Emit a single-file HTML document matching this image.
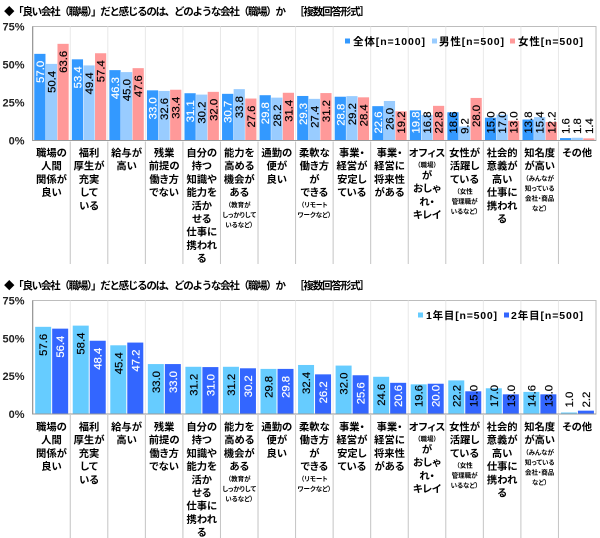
<!DOCTYPE html>
<html lang="ja">
<head>
<meta charset="utf-8">
<title>良い会社（職場）だと感じるのは</title>
<style>
html,body{margin:0;padding:0;background:#fff;width:600px;height:538px;overflow:hidden}
svg{display:block}
text{font-family:"Liberation Sans","Noto Sans CJK JP",sans-serif;fill:#000}
.title{font-size:10.5px;font-weight:700}
.tick{font-size:11px;font-weight:700;fill:#222}
.cat{font-size:10.3px;font-weight:700;font-feature-settings:"palt"}
.note{font-size:6.5px;font-weight:700;font-feature-settings:"palt"}
.val{font-size:11.3px;stroke-width:0.2px}
.leg{font-size:10.5px;font-weight:700}
</style>
</head>
<body>
<svg id="root" xmlns="http://www.w3.org/2000/svg" width="600" height="538" viewBox="0 0 600 538">
<text class="title" x="4" y="15" textLength="282" lengthAdjust="spacing">◆「良い会社（職場）」だと感じるのは、どのような会社（職場）か</text>
<text class="title" x="294" y="15" textLength="76" lengthAdjust="spacing">［複数回答形式］</text>
<text class="title" x="4" y="289" textLength="282" lengthAdjust="spacing">◆「良い会社（職場）」だと感じるのは、どのような会社（職場）か</text>
<text class="title" x="294" y="289" textLength="76" lengthAdjust="spacing">［複数回答形式］</text>
</svg>
<script>
var categories = [
  ["職場の","人間","関係が","良い"],
  ["福利","厚生が","充実","して","いる"],
  ["給与が","高い"],
  ["残業","前提の","働き方","でない"],
  ["自分の","持つ","知識や","能力を","活か","せる","仕事に","携われ","る"],
  ["能力を","高める","機会が","ある","*（教育が","*しっかりして","*いるなど）"],
  ["通勤の","便が","良い"],
  ["柔軟な","働き方","が","できる","*（リモート","*ワークなど）"],
  ["事業・","経営が","安定し","ている"],
  ["事業・","経営に","将来性","がある"],
  ["オフィス","*（職場）","が","おしゃ","れ・","キレイ"],
  ["女性が","活躍し","ている","*（女性","*管理職が","*いるなど）"],
  ["社会的","意義が","高い","仕事に","携われ","る"],
  ["知名度","が高い","*（みんなが","*知っている","*会社・商品","*など）"],
  ["その他"]
];
var yTicks = [0, 25, 50, 75];
var zentai = [57.0,53.4,46.3,33.0,31.1,30.7,29.8,29.3,28.8,22.6,19.8,18.6,15.0,13.8,1.6];
var dansei = [50.4,49.4,45.0,32.6,30.2,33.8,28.2,27.4,29.2,26.0,16.8,9.2,17.0,15.4,1.8];
var josei = [63.6,57.4,47.6,33.4,32.0,27.6,31.4,31.2,28.4,19.2,22.8,28.0,13.0,12.2,1.4];
var year1 = [57.6,58.4,45.4,33.0,31.2,31.2,29.8,32.4,32.0,24.6,19.6,22.2,17.0,14.6,1.0];
var year2 = [56.4,48.4,47.2,33.0,31.0,30.2,29.8,26.2,25.6,20.6,20.0,15.0,13.0,13.0,2.2];

var SVGNS = "http://www.w3.org/2000/svg";
var root = document.getElementById("root");

function make(tag, attrs, parent) {
  var el = document.createElementNS(SVGNS, tag);
  for (var k in attrs) el.setAttribute(k, attrs[k]);
  (parent || root).appendChild(el);
  return el;
}

function drawChart(cfg) {
  var left = 32.7, right = 596, n = categories.length;
  var step = (right - left) / n;
  var yOf = function (v) { return cfg.bottom - v * (cfg.bottom - cfg.top) / 75; };
  var xOf = function (i) { return left + i * step; };

  var g = make("g", {});
  
  

  var frame = make("rect", {x: left, y: cfg.top, width: right - left, height: cfg.bottom - cfg.top, fill: "#fff", stroke: "#bdbdbd", "stroke-width": 1}, g);
  
  

  categories.forEach(function (lines, i) {
    if (i > 0) {
      var grid = make("line", {x1: xOf(i), x2: xOf(i), y1: cfg.top, y2: cfg.bottom, stroke: "#e8e8e8", "stroke-width": 1}, g);
      
      
      var sep = make("line", {x1: xOf(i), x2: xOf(i), y1: cfg.bottom + 1, y2: cfg.sepEnd, stroke: "#c4c4c4", "stroke-width": 1}, g);
      
      
    }
    var y = cfg.bottom + cfg.labelGap, prevNote = null;
    lines.forEach(function (raw) {
      var isNote = raw.charAt(0) === "*";
      if (prevNote !== null) {
        y += (prevNote && isNote) ? 10 : (prevNote !== isNote ? 11.2 : 13.2);
      }
      var t = make("text", {x: xOf(i) + step / 2, y: isNote ? y - 0.5 : y, "text-anchor": "middle", "class": isNote ? "note" : "cat"}, g);
      
      
      t.textContent = isNote ? raw.slice(1) : raw;
      prevNote = isNote;
    });
  });

  var count = cfg.series.length;
  cfg.series.forEach(function (s, si) {
    var groupW = count * cfg.barW + (count - 1) * cfg.gap;
    s.values.forEach(function (v, i) {
      var x = xOf(i) + (step - groupW) / 2 + si * (cfg.barW + cfg.gap) + cfg.shift;
      var top = yOf(v);
      var bar = make("rect", {x: x, y: top, width: cfg.barW, height: cfg.bottom - top, fill: s.color}, g);
      
      
    });
  });
  cfg.series.forEach(function (s, si) {
    var groupW = count * cfg.barW + (count - 1) * cfg.gap;
    s.values.forEach(function (v, i) {
      var x = xOf(i) + (step - groupW) / 2 + si * (cfg.barW + cfg.gap) + cfg.shift + cfg.barW / 2;
      var label = v.toFixed(1);
      var len = label.length === 3 ? 15 : 22;
      var startY = Math.min(yOf(v) + 7, cfg.bottom - 7 - len);
      var cy = startY + len / 2;
      var ink = (s.light > 0 && v >= s.light) ? "#fff" : "#000";
      var t = make("text", {"class": "val", "text-anchor": "middle", "transform": "translate(" + (x + 4) + "," + cy + ") rotate(-90)", style: "fill:" + ink + ";stroke:" + ink}, g);
      
      
      t.textContent = label;
    });
  });

  var axisY = make("line", {x1: left, x2: left, y1: cfg.top, y2: cfg.bottom + 0.5, stroke: "#8a8a8a", "stroke-width": 1}, g);
  
  
  var axisX = make("line", {x1: left, x2: right, y1: cfg.bottom, y2: cfg.bottom, stroke: "#9a9a9a", "stroke-width": 1}, g);
  
  

  yTicks.forEach(function (v) {
    var t = make("text", {"class": "tick", x: 24.5, y: yOf(v) + 4, "text-anchor": "end"}, g);
    
    
    t.textContent = v + "%";
  });

  cfg.series.forEach(function (s) {
    var sw = make("rect", {x: s.legendX, y: cfg.legendY - 2.5, width: 5, height: 5, fill: s.color}, g);
    
    
    var t = make("text", {"class": "leg", x: s.textX, y: cfg.legendY + 4, textLength: s.legendW, lengthAdjust: "spacing"}, g);
    
    
    t.textContent = s.label;
  });
}

drawChart({
  name: "top-bar-chart", top: 26.5, bottom: 140.5, sepEnd: 264, labelGap: 16, barW: 11.2, gap: 0.4, shift: 0, legendY: 41,
  series: [
    {key: "zentai", label: "全体[n=1000]", values: zentai, color: "#3399ff", light: 19.5, legendX: 345, textX: 353, legendW: 72},
    {key: "dansei", label: "男性[n=500]", values: dansei, color: "#99ccff", light: 0, legendX: 432, textX: 439, legendW: 65},
    {key: "josei", label: "女性[n=500]", values: josei, color: "#ff9999", light: 0, legendX: 510, textX: 518, legendW: 65}
  ]
});
drawChart({
  name: "bottom-bar-chart", top: 300.5, bottom: 414, sepEnd: 538, labelGap: 16.5, barW: 16, gap: 1, shift: 0.2, legendY: 315,
  series: [
    {key: "year1", label: "1年目[n=500]", values: year1, color: "#66ccff", light: 0, legendX: 418, textX: 426, legendW: 71},
    {key: "year2", label: "2年目[n=500]", values: year2, color: "#3366ff", light: 19.5, legendX: 504, textX: 511, legendW: 72}
  ]
});
</script>
</body>
</html>
